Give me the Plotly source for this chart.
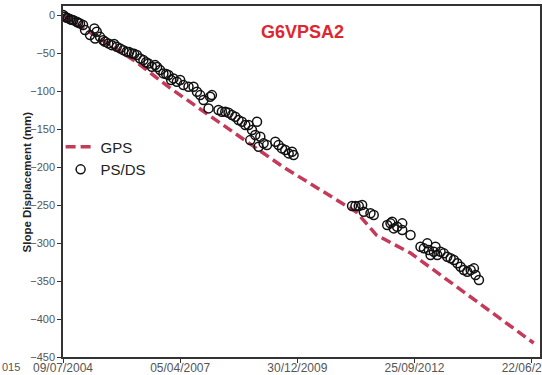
import pandas as pd
import plotly.graph_objects as go

# Survey start (day 0 of every series below)
start_date = pd.Timestamp("2004-07-09")

# GPS displacement track: days since start, displacement (mm)
gps_days = [0, 615, 915, 1880, 2504, 2675, 2966, 4017]
gps_mm = [0, -60.5, -96.1, -200.0, -259.2, -289.5, -313.2, -431.6]

# PS/DS interferometric measurements: days since start, displacement (mm)
ps_days = [3, 17, 32, 43, 60, 73, 88, 117, 128, 145, 171, 188, 231, 268, 274, 288,
           316, 342, 359, 387, 416, 436, 459, 487, 515, 544, 564, 587, 607, 630,
           658, 686, 709, 729, 758, 786, 803, 829, 857, 880, 900, 923, 943, 972,
           1000, 1028, 1071, 1114, 1143, 1171, 1199, 1242, 1256, 1271, 1327, 1356,
           1385, 1413, 1442, 1470, 1498, 1527, 1556, 1584, 1598, 1613, 1641, 1656,
           1669, 1684, 1712, 1741, 1812, 1840, 1869, 1897, 1926, 1955, 1968,
           2467, 2496, 2524, 2553, 2567, 2624, 2652,
           2767, 2795, 2809, 2823, 2852, 2895, 2895, 2966,
           3051, 3080, 3109, 3122, 3137, 3165, 3179, 3194, 3222, 3250, 3279, 3308,
           3336, 3365, 3393, 3421, 3450, 3479, 3507, 3521, 3550]
ps_mm = [0, -2.0, -3.6, -4.0, -5.3, -6.0, -6.6, -8.8, -9.9, -10.9, -13.0, -19.7,
         -26.3, -17.5, -30.7, -22.0, -28.6, -33.0, -35.1, -37.2, -39.5, -38.0,
         -41.7, -43.8, -46.1, -48.3, -48.7, -50.4, -51.0, -52.6, -57.0, -59.2,
         -62.0, -63.6, -68.0, -65.8, -68.4, -72.4, -76.7, -77.6, -78.9, -85.5,
         -83.3, -87.8, -85.5, -92.1, -94.3, -94.3, -100.9, -105.3, -111.8, -122.8,
         -107.5, -105.3, -125.0, -127.2, -127.2, -128.6, -131.6, -133.8, -138.2,
         -140.4, -144.7, -144.7, -164.5, -151.3, -157.9, -140.4, -173.3, -160.1,
         -168.8, -171.1, -166.7, -171.1, -175.4, -177.6, -182.0, -179.9, -184.2,
         -251.3, -251.3, -251.3, -250.0, -258.8, -260.9, -263.2,
         -276.3, -274.1, -272.0, -280.7, -278.6, -274.1, -282.9, -289.5,
         -304.9, -307.0, -300.4, -309.2, -315.8, -311.4, -304.9, -315.8, -311.4,
         -313.6, -318.0, -320.1, -322.4, -326.7, -331.2, -335.5, -337.8, -335.5,
         -333.3, -342.1, -348.7]

# Axis ticks
x_tick_dates = ["2004-07-09", "2007-04-05", "2009-12-30", "2012-09-25", "2015-06-22"]
y_tick_vals = [0, -50, -100, -150, -200, -250, -300, -350, -400, -450]

gps_dates = start_date + pd.to_timedelta(gps_days, unit="D")
ps_dates = start_date + pd.to_timedelta(ps_days, unit="D")

FONT = "Arial, Liberation Sans, sans-serif"

fig = go.Figure()
fig.add_trace(go.Scatter(
    x=gps_dates, y=gps_mm, mode="lines", name="GPS",
    line=dict(color="#c43a58", width=3.5, dash="10px,5px"),
))
fig.add_trace(go.Scatter(
    x=ps_dates, y=ps_mm, mode="markers", name="PS/DS",
    marker=dict(symbol="circle-open", size=9, color="#111111",
                line=dict(width=1.5, color="#111111")),
))

fig.update_layout(
    width=542, height=375,
    margin=dict(l=63, r=2, t=6, b=18, autoexpand=False),
    paper_bgcolor="white", plot_bgcolor="white",
    font=dict(family=FONT, color="#555555", size=11),
    showlegend=True,
    legend=dict(x=-0.005, y=0.645, xanchor="left", yanchor="top",
                bgcolor="rgba(0,0,0,0)", font=dict(size=15, color="#222222"),
                itemwidth=30, tracegroupgap=0),
    annotations=[
        dict(text="<b>G6VPSA2</b>", xref="paper", yref="paper", x=0.503, y=0.96,
             showarrow=False, font=dict(size=18, color="#e0262f", family=FONT)),
        dict(text="<b>Slope Displacement (mm)</b>", xref="paper", yref="paper",
             x=-0.0755, y=0.5, textangle=-90, xanchor="center", yanchor="middle",
             showarrow=False, font=dict(size=11.5, color="#222222", family=FONT)),
        dict(text="015", xref="paper", yref="paper", x=-0.132, y=0.0,
             xanchor="left", yanchor="top", yshift=-2, showarrow=False,
             font=dict(size=11, color="#555555", family=FONT)),
    ],
)

fig.update_xaxes(
    type="date",
    range=["2004-07-09", "2015-09-01"],
    tickvals=x_tick_dates, tickformat="%d/%m/%Y",
    ticklabeloverflow="allow", automargin=False, ticklabelstandoff=-5,
    tickfont=dict(size=12),
    ticks="outside", ticklen=4, tickcolor="#333333",
    showline=True, linecolor="#333333", linewidth=1.5, mirror=True,
    showgrid=False, zeroline=False,
)
fig.update_yaxes(
    range=[-450, 12],
    tickvals=y_tick_vals, automargin=False,
    ticks="outside", ticklen=4, tickcolor="#333333",
    showline=True, linecolor="#333333", linewidth=1.5, mirror=True,
    showgrid=False, zeroline=False,
)

fig.write_html("out.html")
